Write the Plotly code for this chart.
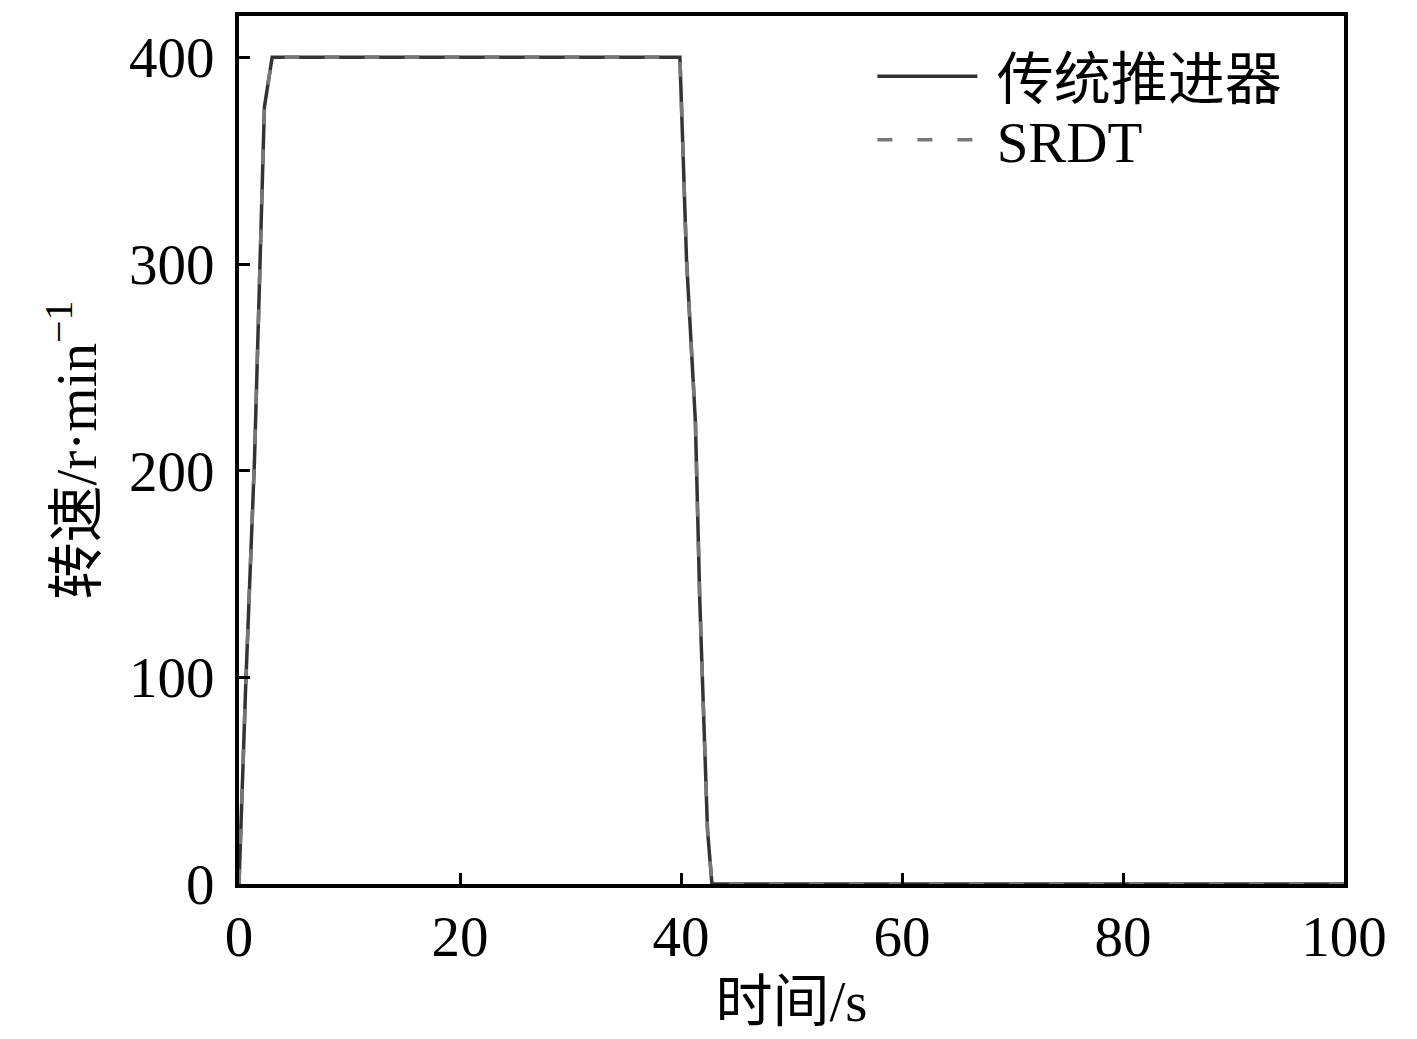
import plotly.graph_objects as go

# data
time_s = [0, 0.6, 1.4, 2.3, 3.0, 10, 20, 30, 39.9, 40.5, 41.3, 41.7, 42.4, 42.8, 50, 60, 70, 80, 90, 100]
speed_conv = [0, 95, 205, 376, 400, 400, 400, 400, 400, 302, 224, 137, 26, 0, 0, 0, 0, 0, 0, 0]
speed_srdt = [0, 95, 205, 376, 400, 400, 400, 400, 400, 302, 224, 137, 26, 0, 0, 0, 0, 0, 0, 0]
x_ticks = [0, 20, 40, 60, 80, 100]
y_ticks = [0, 100, 200, 300, 400]

FONT = "Liberation Serif, Times New Roman, Noto Sans CJK SC, serif"
FS = 57

fig = go.Figure()
fig.add_trace(go.Scatter(x=time_s, y=speed_conv, mode="lines", name="\u00a0传统推进器",
                         line=dict(color="#333333", width=3.5), legend="legend"))
fig.add_trace(go.Scatter(x=time_s, y=speed_srdt, mode="lines", name="\u00a0SRDT",
                         line=dict(color="#777777", width=3.5, dash="15px,25px"), legend="legend2"))

axis_common = dict(showline=True, linecolor="black", linewidth=4, mirror=True,
                   ticks="inside", ticklen=11, tickwidth=3, tickcolor="black",
                   showgrid=False, zeroline=False,
                   tickfont=dict(family=FONT, size=FS, color="black"))

leg_common = dict(xanchor="left", yanchor="middle",
                  font=dict(family=FONT, size=FS, color="black"),
                  bgcolor="rgba(0,0,0,0)", itemwidth=100)

fig.update_layout(
    width=1409, height=1031,
    margin=dict(l=231, r=73, t=4, b=155),
    paper_bgcolor="white", plot_bgcolor="white",
    font=dict(family=FONT, color="black"),
    xaxis=dict(range=[0, 100], tickvals=x_ticks, ticklabelstandoff=0,
               title=dict(text="时间/s", font=dict(family=FONT, size=FS), standoff=15),
               **axis_common),
    yaxis=dict(range=[0, 420], tickvals=y_ticks, ticklabelstandoff=9,
               title=dict(text="转速/r·min<sup>−1</sup>", font=dict(family=FONT, size=FS), standoff=15),
               **axis_common),
    legend=dict(x=0.5732, y=0.930, **leg_common),
    legend2=dict(x=0.5732, y=0.857, **leg_common),
    showlegend=True,
)

fig.write_html("out.html")
